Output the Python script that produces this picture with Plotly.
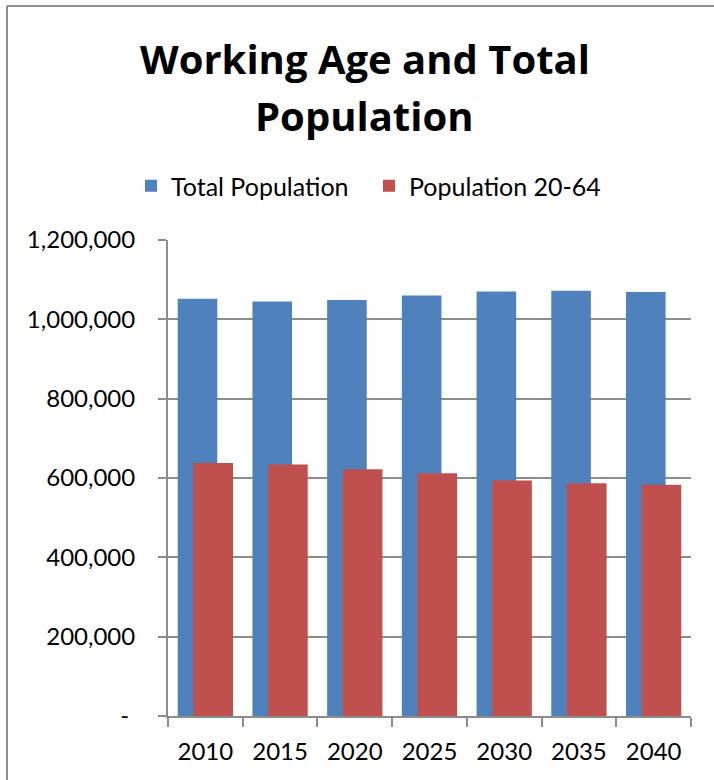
import plotly.graph_objects as go

years = ["2010", "2015", "2020", "2025", "2030", "2035", "2040"]
total_population = [1052000, 1045000, 1049000, 1060000, 1070000, 1072000, 1069000]
population_20_64 = [638000, 634000, 622000, 612000, 594000, 587000, 583000]
y_tick_values = [0, 200000, 400000, 600000, 800000, 1000000, 1200000]
y_tick_labels = ["-\u00a0", "200,000", "400,000", "600,000", "800,000", "1,000,000", "1,200,000"]

BLUE = "#4F81BD"
RED = "#C0504D"
GRID = "#8c8c8c"
FONT = "Lato, Carlito, 'Liberation Sans', sans-serif"
TITLE_FONT = "'Open Sans', Lato, sans-serif"

fig = go.Figure()
fig.add_trace(go.Bar(x=years, y=total_population, name="Total Population",
                     marker=dict(color=BLUE, line=dict(width=0)),
                     width=0.53, offset=-0.37))
fig.add_trace(go.Bar(x=years, y=population_20_64, name="Population 20-64",
                     marker=dict(color=RED, line=dict(width=0)),
                     width=0.53, offset=-0.16))

L, R, T, B = 168, 23, 240, 64
W, H = 714, 780
pw, ph = W - L - R, H - T - B

def px_x(px):
    return (px - L) / pw

def px_y(py):
    return (H - B - py) / ph

fig.update_layout(
    width=W, height=H,
    margin=dict(l=L, r=R, t=T, b=B, pad=0),
    barmode="overlay",
    plot_bgcolor="white", paper_bgcolor="white",
    font=dict(family=FONT, color="black"),
    showlegend=True,
    legend=dict(orientation="h", x=px_x(131), xanchor="left",
                y=px_y(186), yanchor="middle",
                font=dict(size=25, family=FONT),
                itemwidth=30, traceorder="normal", entrywidth=193,
                bgcolor="rgba(0,0,0,0)"),
    xaxis=dict(type="category", showgrid=False, showline=True, linecolor=GRID,
               linewidth=2, ticks="outside", tickson="boundaries", ticklen=9,
               tickcolor=GRID, tickwidth=2,
               tickfont=dict(size=24, family=FONT), ticklabelstandoff=13,
               range=[-0.5, 6.5], fixedrange=True),
    yaxis=dict(range=[0, 1200000], tickvals=y_tick_values, ticktext=y_tick_labels,
               showgrid=True, gridcolor=GRID, gridwidth=2, zeroline=False,
               showline=True, linecolor=GRID, linewidth=2,
               ticks="outside", ticklen=8, tickcolor=GRID, tickwidth=2,
               tickfont=dict(size=24, family=FONT), ticklabelstandoff=18),
    annotations=[
        dict(text="<b>Working Age and Total</b>", xref="paper", yref="paper",
             x=px_x(365), y=px_y(58), xanchor="center", yanchor="middle",
             showarrow=False, font=dict(size=40, family=TITLE_FONT, color="black")),
        dict(text="<b>Population</b>", xref="paper", yref="paper",
             x=px_x(364), y=px_y(115), xanchor="center", yanchor="middle",
             showarrow=False, font=dict(size=40, family=TITLE_FONT, color="black")),
    ],
    shapes=[
        dict(type="line", xref="paper", yref="paper",
             x0=px_x(7), y0=px_y(6), x1=px_x(714), y1=px_y(6),
             line=dict(color=GRID, width=2)),
        dict(type="line", xref="paper", yref="paper",
             x0=px_x(7), y0=px_y(6), x1=px_x(7), y1=px_y(780),
             line=dict(color=GRID, width=2)),
    ],
)

fig.write_html("out.html", config={"displayModeBar": False},
               post_script="document.body.style.margin='0';document.body.style.overflow='hidden';")
